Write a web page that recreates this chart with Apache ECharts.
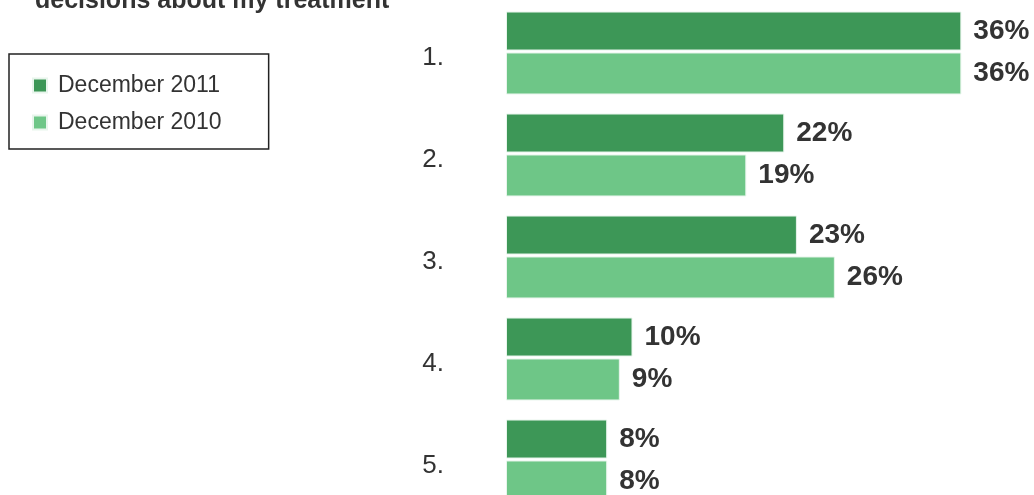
<!DOCTYPE html>
<html>
<head>
<meta charset="utf-8">
<script src="https://cdn.jsdelivr.net/npm/echarts@6/dist/echarts.min.js"></script>
<style>
  html, body { margin: 0; padding: 0; background: #fff; }
  #chart { width: 1034px; height: 495px; }
</style>
</head>
<body>
<div id="chart"></div>
<script>
  // categories and values
  let categories = ['1.', '2.', '3.', '4.', '5.']
  let dec2011 = [36, 22, 23, 10, 8]
  let dec2010 = [36, 19, 26, 9, 8]
  let seriesNames = ['December 2011', 'December 2010']

  let myChart = echarts.init(document.getElementById('chart'))
  let font = 'Liberation Sans, Arial, sans-serif'

  let labelStyle = {
    show: true,
    position: 'right',
    distance: 12,
    formatter: '{c}%',
    color: '#333',
    fontSize: 28,
    fontWeight: 'bold',
    fontFamily: font
  }

  let option = {
    animation: false,
    title: {
      text: 'decisions about my treatment',
      left: 30,
      top: -16,
      textStyle: {
        color: '#333',
        fontSize: 25,
        fontWeight: 'bold',
        fontFamily: font
      }
    },
    legend: {
      orient: 'vertical',
      left: 9,
      top: 54,
      data: seriesNames,
      icon: 'rect',
      itemWidth: 14,
      itemHeight: 14,
      itemGap: 14,
      borderColor: '#222',
      borderWidth: 1.5,
      borderRadius: 0,
      padding: [20, 47, 15, 23],
      textStyle: {
        color: '#333',
        fontSize: 23,
        padding: [0, 0, 0, 6],
        fontFamily: font
      }
    },
    grid: {
      left: 506,
      right: 60,
      top: 2,
      height: 510,
      outerBoundsMode: 'none'
    },
    xAxis: {
      type: 'value',
      min: 0,
      max: 37,
      show: false
    },
    yAxis: {
      type: 'category',
      data: categories,
      inverse: true,
      axisLine: { show: false },
      axisTick: { show: false },
      axisLabel: {
        margin: 62,
        align: 'right',
        formatter: '{n|{value}}',
        rich: {
          n: {
            color: '#333',
            fontSize: 26,
            padding: [10, 0, 0, 0],
            fontFamily: font
          }
        }
      }
    },
    series: [{
      name: seriesNames[0],
      type: 'bar',
      data: dec2011,
      barWidth: 39,
      barGap: '5%',
      itemStyle: { color: '#3d9757', borderColor: '#e8f5ec', borderWidth: 1 },
      label: labelStyle
    }, {
      name: seriesNames[1],
      type: 'bar',
      data: dec2010,
      barWidth: 42,
      itemStyle: { color: '#6ec687', borderColor: '#e8f5ec', borderWidth: 1 },
      label: labelStyle
    }]
  }
  myChart.setOption(option)
</script>
</body>
</html>
